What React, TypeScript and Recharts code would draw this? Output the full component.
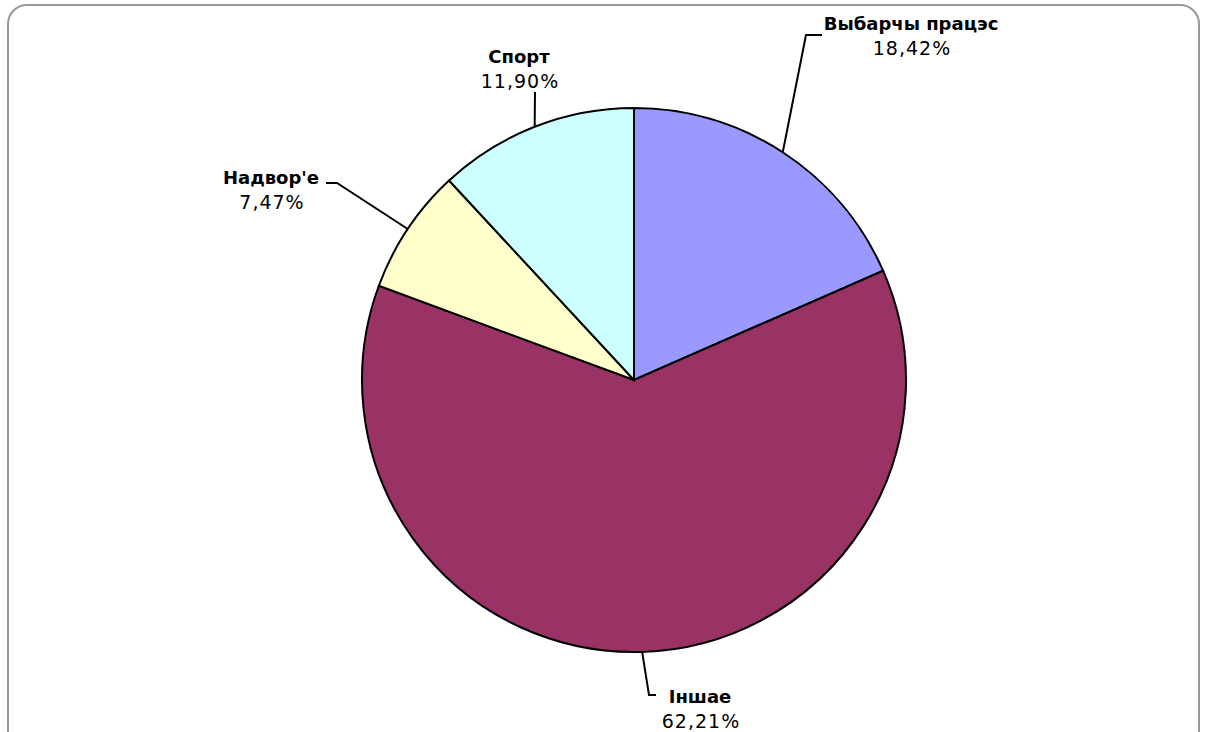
import React from "react";
import { PieChart, Pie, Cell } from "recharts";

const categories = ["Выбарчы працэс", "Іншае", "Надвор'е", "Спорт"];
const values = [18.42, 62.21, 7.47, 11.9];
const percentLabels = ["18,42%", "62,21%", "7,47%", "11,90%"];
const colors = ["#9999FF", "#993366", "#FFFFCC", "#CCFFFF"];

// label layout offsets relative to pie centre: elbow point, line end, text centre
const labelLayout = [
  { elbow: [172, -345], end: [188, -345], text: [277, -357] },
  { elbow: [15, 315], end: [22, 315], text: [66, 316] },
  { elbow: [-297, -197], end: [-308, -197], text: [-363, -203] },
  { elbow: [-99, -288], end: [-99, -288], text: [-115, -324] },
];

const data = categories.map((name, i) => ({ name, value: values[i], pct: percentLabels[i] }));

const FONT = "'DejaVu Sans', Verdana, sans-serif";

const renderLabel = (props: any) => {
  const { cx, cy, midAngle, outerRadius, index } = props;
  const RAD = Math.PI / 180;
  const sx = cx + outerRadius * Math.cos(-midAngle * RAD);
  const sy = cy + outerRadius * Math.sin(-midAngle * RAD);
  const l = labelLayout[index];
  const ex = cx + l.elbow[0];
  const ey = cy + l.elbow[1];
  const fx = cx + l.end[0];
  const fy = cy + l.end[1];
  const tx = cx + l.text[0];
  const ty = cy + l.text[1];
  return (
    <g key={`lbl-${index}`}>
      <polyline
        points={`${sx},${sy} ${ex},${ey} ${fx},${fy}`}
        fill="none"
        stroke="#000"
        strokeWidth={2}
      />
      <text
        x={tx}
        y={ty}
        textAnchor="middle"
        dominantBaseline="central"
        fontFamily={FONT}
        fontWeight="bold"
        fontSize={18}
        fill="#000"
      >
        {data[index].name}
      </text>
      <text
        x={tx + 1}
        y={ty + 25}
        textAnchor="middle"
        dominantBaseline="central"
        fontFamily={FONT}
        fontSize={19}
        letterSpacing={1}
        fill="#000"
      >
        {data[index].pct}
      </text>
    </g>
  );
};

export default function App() {
  return (
    <div style={{ position: "absolute", left: 0, top: 0, width: 1206, height: 732, background: "#fff", overflow: "hidden" }}>
      <div
        style={{
          position: "absolute",
          left: 7,
          top: 4,
          width: 1193,
          height: 760,
          border: "2px solid #999",
          borderRadius: 20,
          boxSizing: "border-box",
        }}
      />
      <div style={{ position: "absolute", left: 0, top: 0 }}>
        <PieChart width={1206} height={732} margin={{ top: 0, right: 0, bottom: 0, left: 0 }}>
          <Pie
            data={data}
            dataKey="value"
            nameKey="name"
            cx={634}
            cy={380}
            outerRadius={272}
            startAngle={90}
            endAngle={-270}
            stroke="#000"
            strokeWidth={2}
            label={renderLabel}
            labelLine={false}
            isAnimationActive={false}
          >
            {data.map((d, i) => (
              <Cell key={d.name} fill={colors[i]} />
            ))}
          </Pie>
        </PieChart>
      </div>
    </div>
  );
}
